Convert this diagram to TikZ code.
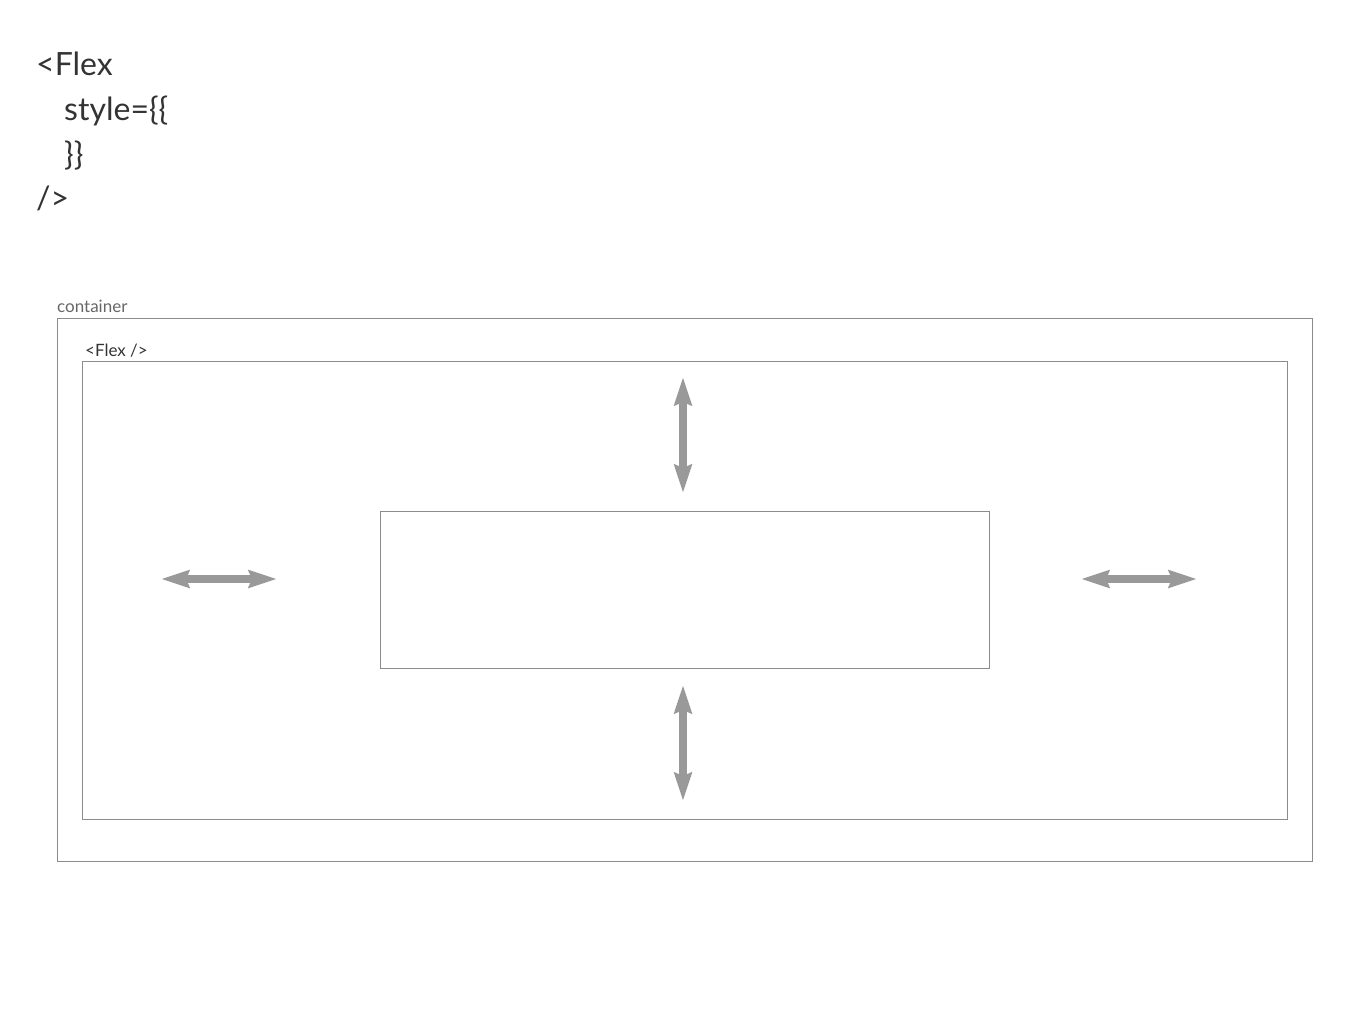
\documentclass[tikz,border=0pt]{standalone}
\usepackage{fontspec}
\setmainfont{Lato}
\usetikzlibrary{arrows.meta}
\definecolor{boxgray}{HTML}{8C8C8C}
\definecolor{arrowgray}{HTML}{999999}
\definecolor{codetext}{HTML}{333333}
\definecolor{labelgray}{HTML}{666666}
\begin{document}
\begin{tikzpicture}[x=1pt,y=-1pt,
  frame/.style={draw=boxgray,line width=0.8pt},
  code/.style={anchor=base west,inner sep=0pt,text=codetext,font=\fontsize{32}{38}\selectfont},
  smalllabel/.style={anchor=base west,inner sep=0pt,font=\fontsize{17}{20}\selectfont},
  bigarrow/.style={draw=arrowgray,line width=8.5pt,{Stealth[length=28pt,width=17pt,inset=3pt]}-{Stealth[length=28pt,width=17pt,inset=3pt]}}
]
\useasboundingbox (0,0) rectangle (1366,1024);
\node[code] (l1) at (36,76) {<Flex};
\node[code] (l2) at (64,121) {style=\{\{};
\node[code] (l3) at (64,166) {\}\}};
\node[code] (l4) at (36,210) {/>};

\node[smalllabel,text=labelgray] (clab) at (57,313) {container};
\draw[frame] (57,318) rectangle (1312,861);
\node[smalllabel,text=codetext] (flab) at (85,356) {<Flex />};
\draw[frame] (82,361) rectangle (1287,819);
\node[frame,minimum width=609pt,minimum height=157pt,inner sep=0pt] (inner) at (684.5,589.5) {};

\coordinate (la) at (161,579); \coordinate (lb) at (277,579);
\coordinate (ra) at (1081,579); \coordinate (rb) at (1197,579);
\coordinate (ta) at (683,377); \coordinate (tb) at (683,493);
\coordinate (ba) at (683,685); \coordinate (bb) at (683,801);
\draw[bigarrow] (la) -- (lb);
\draw[bigarrow] (ra) -- (rb);
\draw[bigarrow] (ta) -- (tb);
\draw[bigarrow] (ba) -- (bb);
\end{tikzpicture}
\end{document}
